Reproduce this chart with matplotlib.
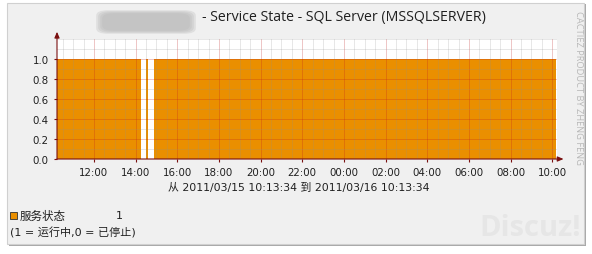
import matplotlib
matplotlib.use("Agg")
import matplotlib.pyplot as plt
import matplotlib.dates as mdates
from matplotlib.patches import FancyBboxPatch, Rectangle
import pandas as pd

# 服务状态: 状态变化时刻 (1 = 运行中, 0 = 已停止)
change_times = ["2011-03-15 10:13:34", "2011-03-15 14:15:00", "2011-03-15 14:30:00",
                "2011-03-15 14:36:00", "2011-03-15 14:54:00", "2011-03-16 10:10:00"]
states = [1, 0, 1, 0, 1, 0]
start_time = "2011-03-15 10:13:34"
end_time = "2011-03-16 10:13:34"
y_ticks = [0.0, 0.2, 0.4, 0.6, 0.8, 1.0]
y_max = 1.2

title = "- Service State - SQL Server (MSSQLSERVER)"
range_text = "从 2011/03/15 10:13:34 到 2011/03/16 10:13:34"
legend_name = "服务状态"
legend_value = "1"
legend_note = "(1 = 运行中,0 = 已停止)"

orange = "#EA8F00"
axis_red = "#7A1010"
fonts = ["DejaVu Sans", "Noto Sans CJK SC"]

fig = plt.figure(figsize=(5.92, 2.55), dpi=100)
fig.patch.set_facecolor("white")

# рамка и фон картинки
fig.patches.append(Rectangle((9 / 592, 8 / 255), 577 / 592, 242 / 255,
                             transform=fig.transFigure, facecolor="#A8A8A8",
                             edgecolor="none", zorder=-3))
fig.patches.append(Rectangle((7 / 592, 10 / 255), 577 / 592, 241 / 255,
                             transform=fig.transFigure, facecolor="#F0F0F0",
                             edgecolor="#D0D0D0", linewidth=0.8, zorder=-2))
# размытое (скрытое) имя хоста в заголовке, несколько слоёв для мягкого края
for k in range(4):
    fig.patches.append(FancyBboxPatch(((98 + k * 2) / 592, (221 + k) / 255),
                                      (96 - k * 4) / 592, (22 - k * 2) / 255,
                                      boxstyle="round,pad=0.003,rounding_size=0.02",
                                      transform=fig.transFigure, facecolor="#B8B8B8",
                                      edgecolor="none", alpha=0.3, zorder=-1))

ax = fig.add_axes([57 / 592, 95 / 255, 500 / 592, 120 / 255])
ax.set_zorder(1)
ax.set_facecolor("white")

times = pd.to_datetime(change_times)
ax.fill_between(times, states, step="post", color=orange, linewidth=0, zorder=1)

t0 = pd.Timestamp(start_time)
t1 = pd.Timestamp(end_time)
ax.set_xlim(t0, t1)
ax.set_ylim(0, y_max)

ax.xaxis.set_major_locator(mdates.HourLocator(byhour=range(0, 24, 2)))
ax.xaxis.set_minor_locator(mdates.MinuteLocator(byminute=[0, 30]))
ax.xaxis.set_major_formatter(mdates.DateFormatter("%H:%M"))
ax.set_yticks(y_ticks)
ax.set_yticks([i / 10 for i in range(1, 13)], minor=True)
ax.yaxis.set_major_formatter(plt.FuncFormatter(lambda v, p: f"{v:.1f}"))

ax.set_axisbelow(False)
ax.grid(which="minor", color="#909090", alpha=0.25, linewidth=0.6)
ax.grid(which="major", color="#C02020", alpha=0.3, linewidth=0.6)

for s in ax.spines.values():
    s.set_visible(False)
ax.tick_params(which="both", length=0, labelsize=7.4, colors="#202020", pad=4)
ax.tick_params(axis="y", pad=4)
ax.tick_params(which="major", length=2, color=axis_red)

# оси со стрелками
ax.annotate("", xy=(0, 1.06), xytext=(0, 0), xycoords="axes fraction",
            arrowprops=dict(arrowstyle="-|>,head_width=0.15,head_length=0.35",
                            color=axis_red, lw=0.8, shrinkA=0, shrinkB=0))
ax.annotate("", xy=(1.013, 0), xytext=(0, 0), xycoords="axes fraction",
            arrowprops=dict(arrowstyle="-|>,head_width=0.15,head_length=0.35",
                            color=axis_red, lw=0.8, shrinkA=0, shrinkB=0))

fig.text(344 / 592, 1 - 18 / 255, title, ha="center", va="center",
         fontsize=10.2, family=["Open Sans", "DejaVu Sans"], color="#202020")
fig.text(299 / 592, 1 - 188 / 255, range_text, ha="center", va="center",
         fontsize=7.8, family=fonts, color="#202020")

fig.patches.append(Rectangle((10 / 592, 1 - 220 / 255), 7 / 592, 7 / 255,
                             transform=fig.transFigure, facecolor=orange,
                             edgecolor="#303030", linewidth=0.6, zorder=3))
fig.text(20 / 592, 1 - 216 / 255, legend_name, ha="left", va="center",
         fontsize=8.3, family=["Noto Sans CJK SC", "DejaVu Sans"], color="#202020")
fig.text(116 / 592, 1 - 216 / 255, legend_value, ha="left", va="center",
         fontsize=8, family=fonts, color="#202020")
fig.text(10 / 592, 1 - 233 / 255, legend_note, ha="left", va="center",
         fontsize=8, family=fonts, color="#202020")

fig.text(578 / 592, 1 - 88 / 255, "CACTIEZ PRODUCT BY ZHENG FENG",
         rotation=-90, ha="center", va="center", fontsize=6.7,
         family=["Open Sans", "DejaVu Sans"], color="#B8B8B8")
fig.text(530 / 592, 1 - 229 / 255, "Discuz!", ha="center", va="center",
         fontsize=21, fontweight="bold", family=["Open Sans", "DejaVu Sans"],
         color="#E6E6E6")

fig.savefig("out.png", dpi=100)
